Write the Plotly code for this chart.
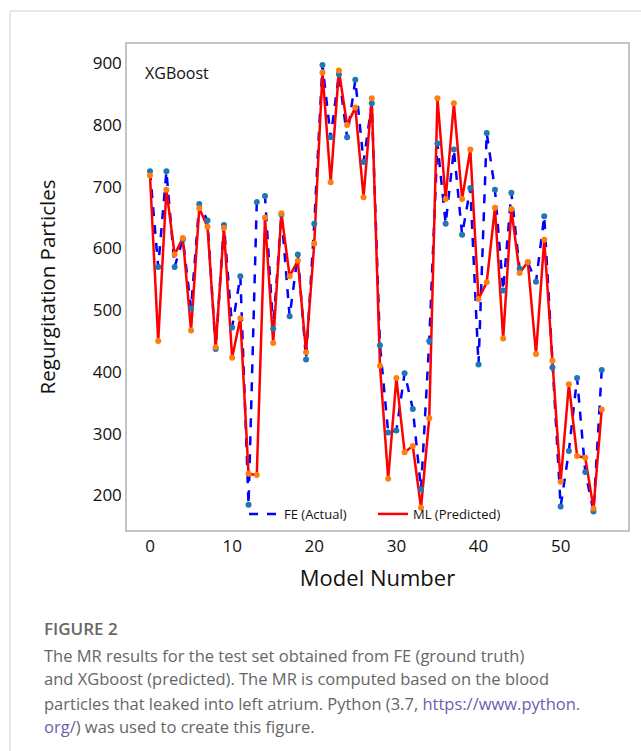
import plotly.graph_objects as go

model_number = list(range(56))
fe_actual = [725, 570, 725, 570, 615, 503, 672, 645, 437, 638,
             472, 555, 185, 675, 685, 470, 655, 490, 590, 420,
             640, 897, 780, 882, 780, 873, 740, 835, 443, 302,
             305, 398, 340, 210, 450, 770, 640, 760, 622, 698,
             412, 787, 695, 532, 690, 567, 577, 546, 652, 407,
             182, 272, 390, 238, 174, 403]
ml_predicted = [718, 450, 695, 590, 617, 467, 665, 635, 440, 633,
                423, 487, 235, 233, 650, 447, 657, 555, 580, 432,
                608, 885, 707, 888, 800, 828, 683, 843, 410, 227,
                390, 270, 280, 180, 325, 843, 680, 835, 680, 760,
                518, 545, 666, 454, 664, 560, 578, 429, 614, 418,
                222, 380, 264, 261, 179, 339]
y_ticks = [200, 300, 400, 500, 600, 700, 800, 900]
x_ticks = [0, 10, 20, 30, 40, 50]

W, H = 641, 751
L, R, T, B = 127, 628, 44, 530


def px(x):
    return (x - L) / (R - L)


def py(y):
    return (B - y) / (B - T)


fig = go.Figure()
fig.add_trace(go.Scatter(
    x=model_number, y=fe_actual, mode="lines", name="FE (Actual)",
    line=dict(color="#0000ff", width=2.5, dash="dash")))
fig.add_trace(go.Scatter(
    x=model_number, y=ml_predicted, mode="lines", name="ML (Predicted)",
    line=dict(color="#ff0000", width=2.5)))
fig.add_trace(go.Scatter(
    x=model_number, y=fe_actual, mode="markers", showlegend=False,
    marker=dict(color="#1f77b4", size=6)))
fig.add_trace(go.Scatter(
    x=model_number, y=ml_predicted, mode="markers", showlegend=False,
    marker=dict(color="#ff7f0e", size=6)))

chart_font = "Open Sans, DejaVu Sans, sans-serif"
fig.update_layout(
    width=W, height=H,
    margin=dict(l=L, r=W - R, t=T, b=H - B),
    paper_bgcolor="white", plot_bgcolor="white",
    font=dict(family=chart_font, color="#111111"),
    showlegend=True,
    legend=dict(orientation="h", x=px(244), y=py(514), xanchor="left", yanchor="middle",
                font=dict(size=13, color="#111111"), bgcolor="rgba(0,0,0,0)",
                itemwidth=30, entrywidth=84, traceorder="normal"),
    xaxis=dict(range=[-2.8, 58.2], tickvals=x_ticks, showgrid=False, zeroline=False,
               showline=True, mirror=True, linecolor="#c4c4c4", linewidth=1.5,
               ticks="", tickfont=dict(size=17, color="#111111"),
               title=dict(text="Model Number", font=dict(size=22, color="#111111"), standoff=14)),
    yaxis=dict(range=[144, 931], tickvals=y_ticks, showgrid=False, zeroline=False,
               showline=True, mirror=True, linecolor="#c4c4c4", linewidth=1.5,
               ticks="", tickfont=dict(size=17, color="#111111"),
               title=dict(text="Regurgitation Particles", font=dict(size=20.5, color="#111111"), standoff=32)),
)

fig.add_annotation(text="XGBoost", xref="paper", yref="paper", x=px(143), y=py(73),
                   xanchor="left", yanchor="middle", showarrow=False,
                   font=dict(size=16, color="#111111", family=chart_font))

# card border
fig.add_shape(type="line", xref="paper", yref="paper", x0=px(10), x1=px(645), y0=py(11), y1=py(11),
              line=dict(color="#d0d0d0", width=1))
fig.add_shape(type="line", xref="paper", yref="paper", x0=px(10), x1=px(10), y0=py(11), y1=py(755),
              line=dict(color="#d0d0d0", width=1))

cap_font = "Open Sans, Lato, sans-serif"
fig.add_annotation(text="FIGURE 2", xref="paper", yref="paper", x=px(42), y=py(628),
                   xanchor="left", yanchor="middle", showarrow=False,
                   font=dict(size=17, color="#666666", family=cap_font, weight=600))
cap_lines = [
    "The MR results for the test set obtained from FE (ground truth)",
    "and XGboost (predicted). The MR is computed based on the blood",
    "particles that leaked into left atrium. Python (3.7, <span style='color:#6a5fb0'>https://www.python.</span>",
    "<span style='color:#6a5fb0'>org/</span>) was used to create this figure.",
]
for i, line in enumerate(cap_lines):
    fig.add_annotation(text=line, xref="paper", yref="paper", x=px(42), y=py(655 + i * 24),
                       xanchor="left", yanchor="middle", showarrow=False,
                       font=dict(size=16.5, color="#666666", family=cap_font))

fig.write_html("out.html")
